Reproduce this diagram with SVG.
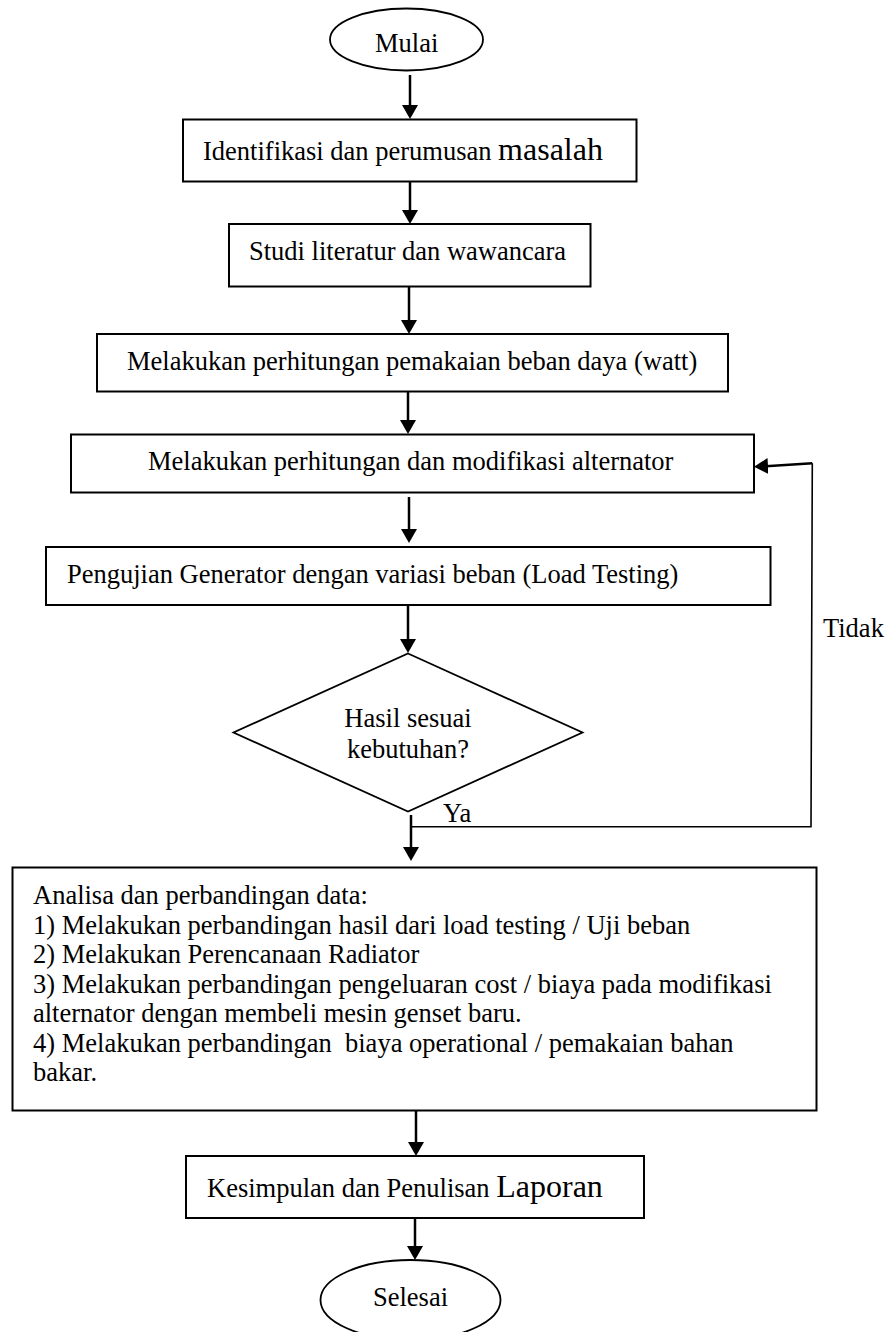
<svg xmlns="http://www.w3.org/2000/svg" width="888" height="1332" viewBox="0 0 888 1332">
<style>
.node{fill:#fff;stroke:#000;stroke-width:2}
.term{fill:#fff;stroke:#000;stroke-width:1.8}
.t{font-family:"Liberation Serif","Times New Roman",serif;font-size:26.5px;fill:#000}
.big{font-size:32px}
.c{stroke:#000;stroke-width:2.5;fill:none}
.thin{stroke:#000;stroke-width:1.6;fill:none}
</style>
<defs>
<marker id="ah" markerUnits="userSpaceOnUse" markerWidth="16" markerHeight="16" refX="8" refY="8" orient="auto">
<path d="M0,0 L14,8 L0,16 z" fill="#000"/>
</marker>
</defs>
<rect width="888" height="1332" fill="#fff"/>

<g id="mulai">
<ellipse class="term" cx="406.5" cy="39.5" rx="76.5" ry="31"/>
<text class="t" x="375" y="52">Mulai</text>
</g>

<g id="identifikasi">
<rect class="node" x="183" y="119.5" width="453.5" height="62"/>
<text class="t" x="203" y="160">Identifikasi dan perumusan <tspan class="big">masalah</tspan></text>
</g>

<g id="studi">
<rect class="node" x="229" y="224" width="361.5" height="62.5"/>
<text class="t" x="249" y="260">Studi literatur dan wawancara</text>
</g>

<g id="beban">
<rect class="node" x="97" y="334" width="631" height="57.5"/>
<text class="t" x="127" y="370">Melakukan perhitungan pemakaian beban daya (watt)</text>
</g>

<g id="modifikasi">
<rect class="node" x="71" y="434.5" width="683" height="58"/>
<text class="t" x="148" y="470">Melakukan perhitungan dan modifikasi alternator</text>
</g>

<g id="pengujian">
<rect class="node" x="46" y="547" width="724.5" height="58"/>
<text class="t" x="67" y="583">Pengujian Generator dengan variasi beban (Load Testing)</text>
</g>

<g id="keputusan">
<polygon class="term" points="408,653.5 582.5,732.5 408,811.5 233.5,732.5"/>
<text class="t" x="408" y="727" text-anchor="middle">Hasil sesuai</text>
<text class="t" x="408" y="758" text-anchor="middle">kebutuhan?</text>
</g>

<g id="analisa">
<rect class="node" x="12.5" y="867.5" width="804" height="243"/>
<text class="t" x="33" y="904">Analisa dan perbandingan data:</text>
<text class="t" x="33" y="934">1) Melakukan perbandingan hasil dari load testing / Uji beban</text>
<text class="t" x="33" y="963">2) Melakukan Perencanaan Radiator</text>
<text class="t" x="33" y="993">3) Melakukan perbandingan pengeluaran cost / biaya pada modifikasi</text>
<text class="t" x="33" y="1022">alternator dengan membeli mesin genset baru.</text>
<text class="t" x="33" y="1052" xml:space="preserve" style="white-space:pre">4) Melakukan perbandingan  biaya operational / pemakaian bahan</text>
<text class="t" x="33" y="1081">bakar.</text>
</g>

<g id="kesimpulan">
<rect class="node" x="186" y="1156" width="458" height="62"/>
<text class="t" x="207" y="1197">Kesimpulan dan Penulisan <tspan class="big">Laporan</tspan></text>
</g>

<g id="selesai">
<ellipse class="term" cx="410.5" cy="1300" rx="90" ry="40"/>
<text class="t" x="373" y="1306">Selesai</text>
</g>

<g id="connectors">
<line class="c" x1="410" y1="75" x2="410" y2="113" marker-end="url(#ah)"/>
<line class="c" x1="410" y1="182" x2="410" y2="218" marker-end="url(#ah)"/>
<line class="c" x1="409" y1="287" x2="409" y2="328" marker-end="url(#ah)"/>
<line class="c" x1="408" y1="392" x2="408" y2="428" marker-end="url(#ah)"/>
<line class="c" x1="409" y1="497" x2="409" y2="537" marker-end="url(#ah)"/>
<line class="c" x1="408" y1="605" x2="408" y2="647" marker-end="url(#ah)"/>
<line class="c" x1="411" y1="815" x2="411" y2="855" marker-end="url(#ah)"/>
<polyline class="thin" points="411,826.7 811,826.7 812.3,463.3"/>
<line class="c" x1="812.3" y1="463.3" x2="760" y2="466.5" marker-end="url(#ah)"/>
<line class="c" x1="416" y1="1111" x2="416" y2="1150" marker-end="url(#ah)"/>
<line class="c" x1="415" y1="1218" x2="415" y2="1254" marker-end="url(#ah)"/>
<text class="t" x="823" y="637">Tidak</text>
<text class="t" x="443" y="822">Ya</text>
</g>
</svg>
